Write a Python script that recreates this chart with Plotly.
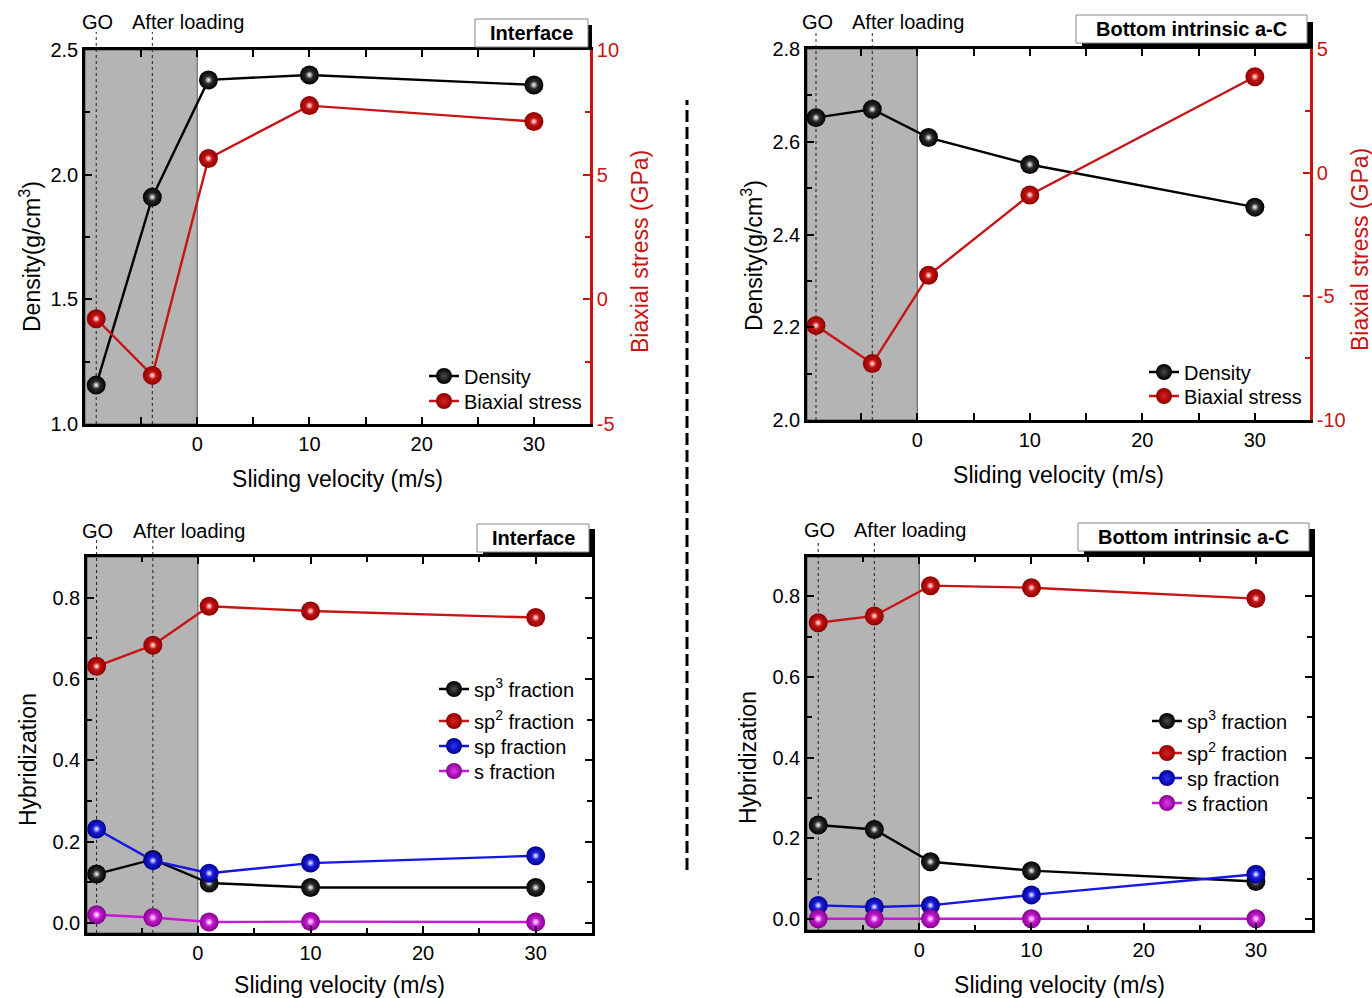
import plotly.graph_objects as go

W, H = 1372, 998

# ---- data -------------------------------------------------------------
velocity = [-9, -4, 1, 10, 30]          # GO, After loading, 1, 10, 30 m/s
state_pos = [-9, -4]
state_labels = ["GO", "After loading"]

iface_density = [1.156, 1.91, 2.38, 2.40, 2.36]
iface_stress = [-0.78, -3.05, 5.65, 7.77, 7.13]
bottom_density = [2.652, 2.670, 2.609, 2.551, 2.459]
bottom_stress = [-6.18, -7.72, -4.15, -0.90, 3.88]

iface_sp3 = [0.120, 0.156, 0.098, 0.087, 0.087]
iface_sp2 = [0.631, 0.683, 0.779, 0.767, 0.751]
iface_sp = [0.231, 0.153, 0.122, 0.147, 0.165]
iface_s = [0.020, 0.013, 0.002, 0.003, 0.002]

bottom_sp3 = [0.233, 0.222, 0.142, 0.120, 0.093]
bottom_sp2 = [0.734, 0.751, 0.826, 0.821, 0.794]
bottom_sp = [0.034, 0.030, 0.034, 0.060, 0.111]
bottom_s = [0.001, 0.001, 0.001, 0.001, 0.001]

x_ticks = [0, 10, 20, 30]
x_minor = [-5, 5, 15, 25]
iface_density_ticks = [1.0, 1.5, 2.0, 2.5]
bottom_density_ticks = [2.0, 2.2, 2.4, 2.6, 2.8]
iface_stress_ticks = [-5, 0, 5, 10]
iface_stress_text = ["-5", "0", "5", "10"]
bottom_stress_ticks = [-10, -5, 0, 5]
bottom_stress_text = ["-10", "-5", "0", "5"]
hyb_ticks = [0.0, 0.2, 0.4, 0.6, 0.8]

# ---- style ------------------------------------------------------------
FONT = "Liberation Sans, Arial, Helvetica, sans-serif"
RED = "#c81414"
BLACK = "#000000"
BLUE = "#1616e6"
MAGENTA = "#cc14dc"
SHADE = {
    BLACK: ("#000000", "#4a4a4a"),
    RED: ("#900000", "#dc2020"),
    BLUE: ("#000090", "#3030ff"),
    MAGENTA: ("#86008e", "#e436f4"),
}
TICK_SIZE = 20
TITLE_SIZE = 23


def fx(px):
    return px / W


def fy(py):
    return 1 - py / H


# panel pixel boxes: left, right, top, bottom
panels = {
    "tl": dict(l=85, r=590, t=50, b=424, xr=[-10, 35]),
    "tr": dict(l=807, r=1310, t=49, b=420, xr=[-9.8, 34.9]),
    "bl": dict(l=87, r=592, t=557, b=933, xr=[-9.85, 35]),
    "br": dict(l=807, r=1312, t=557, b=930, xr=[-10, 35]),
}

fig = go.Figure()
legend_slots = []      # (legend id, text-left px, row-centre px)


def add_series(x, y, name, color, xa, ya, text_left, row_y):
    lid = "legend" if not legend_slots else "legend%d" % (len(legend_slots) + 1)
    legend_slots.append((lid, text_left, row_y))
    edge, center = SHADE[color]
    fig.add_trace(go.Scatter(
        x=x, y=y, name=name, mode="lines+markers", xaxis=xa, yaxis=ya,
        legend=lid, line=dict(color=color, width=2.4),
        marker=dict(size=19, color=edge,
                    gradient=dict(type="radial", color=center))))
    fig.add_trace(go.Scatter(
        x=x, y=y, mode="markers", xaxis=xa, yaxis=ya, showlegend=False,
        hoverinfo="skip",
        marker=dict(size=7, color=center,
                    gradient=dict(type="radial", color="white"))))


add_series(velocity, iface_density, "Density", BLACK, "x", "y", 464, 376)
add_series(velocity, iface_stress, "Biaxial stress", RED, "x", "y2", 464, 401)
add_series(velocity, bottom_density, "Density", BLACK, "x2", "y3", 1184, 372)
add_series(velocity, bottom_stress, "Biaxial stress", RED, "x2", "y4", 1184, 396)

hyb_names = ["sp<sup>3</sup> fraction", "sp<sup>2</sup> fraction",
             "sp fraction", "s fraction"]
hyb_colors = [BLACK, RED, BLUE, MAGENTA]
iface_rows = [689, 721, 746, 771]
bottom_rows = [721, 753, 778, 803]
for vals, nm, c, ry in zip([iface_sp3, iface_sp2, iface_sp, iface_s],
                           hyb_names, hyb_colors, iface_rows):
    add_series(velocity, vals, nm, c, "x3", "y5", 474, ry)
for vals, nm, c, ry in zip([bottom_sp3, bottom_sp2, bottom_sp, bottom_s],
                           hyb_names, hyb_colors, bottom_rows):
    add_series(velocity, vals, nm, c, "x4", "y6", 1187, ry)

tickfont = dict(family=FONT, size=TICK_SIZE, color="black")


def xaxis(p, anchor):
    return dict(
        domain=[fx(p["l"]), fx(p["r"])], anchor=anchor, range=p["xr"],
        tickmode="array", tickvals=x_ticks, ticks="inside", ticklen=7,
        tickwidth=2, tickcolor="black", showline=True, linewidth=2.6,
        linecolor="black", mirror="allticks", showgrid=False, zeroline=False,
        minor=dict(tickmode="array", tickvals=x_minor, ticks="inside",
                   ticklen=5, tickwidth=2, tickcolor="black"),
        tickfont=tickfont,
        title=dict(text="Sliding velocity (m/s)",
                   font=dict(family=FONT, size=TITLE_SIZE, color="black"),
                   standoff=18),
        fixedrange=True)


def yaxis(p, anchor, rng, vals, minor_dtick, mirror, fmt=".1f"):
    return dict(
        domain=[fy(p["b"]), fy(p["t"])], anchor=anchor, range=rng,
        tickmode="array", tickvals=vals, tickformat=fmt, ticks="inside",
        ticklen=7, tickwidth=2, tickcolor="black", showline=True,
        linewidth=2.6, linecolor="black", mirror=mirror, showgrid=False,
        zeroline=False,
        minor=dict(tickmode="linear", tick0=0, dtick=minor_dtick,
                   ticks="inside", ticklen=5, tickwidth=2, tickcolor="black"),
        tickfont=tickfont, fixedrange=True)


def stress_axis(over, anchor, rng, vals, text):
    return dict(
        overlaying=over, side="right", anchor=anchor, range=rng,
        tickmode="array", tickvals=vals, ticktext=text, ticks="inside",
        ticklen=7, tickwidth=2, tickcolor=RED, showline=True, linewidth=2.6,
        linecolor=RED, showgrid=False, zeroline=False,
        minor=dict(tickmode="linear", tick0=0, dtick=2.5, ticks="inside",
                   ticklen=5, tickwidth=2, tickcolor=RED),
        tickfont=dict(family=FONT, size=TICK_SIZE, color=RED), fixedrange=True)


P = panels
layout = dict(
    width=W, height=H,
    margin=dict(l=0, r=0, t=0, b=0, pad=0, autoexpand=False),
    paper_bgcolor="white", plot_bgcolor="white",
    font=dict(family=FONT, color="black"),
    xaxis=xaxis(P["tl"], "y"),
    yaxis=yaxis(P["tl"], "x", [1.0, 2.5], iface_density_ticks, 0.25, False),
    yaxis2=stress_axis("y", "x", [-5, 10], iface_stress_ticks, iface_stress_text),
    xaxis2=xaxis(P["tr"], "y3"),
    yaxis3=yaxis(P["tr"], "x2", [2.0, 2.8], bottom_density_ticks, 0.1, False),
    yaxis4=stress_axis("y3", "x2", [-10, 5], bottom_stress_ticks, bottom_stress_text),
    xaxis3=xaxis(P["bl"], "y5"),
    yaxis5=yaxis(P["bl"], "x3", [-0.025, 0.9], hyb_ticks, 0.1, "allticks"),
    xaxis4=xaxis(P["br"], "y6"),
    yaxis6=yaxis(P["br"], "x4", [-0.027, 0.897], hyb_ticks, 0.1, "allticks"),
    showlegend=True,
)

# one single-row legend per series so each row sits at its own height
for lid, text_left, row_y in legend_slots:
    layout[lid] = dict(x=fx(text_left - 40), y=fy(row_y), xanchor="left",
                       yanchor="middle", bgcolor="rgba(0,0,0,0)",
                       font=dict(family=FONT, size=TICK_SIZE, color="black"),
                       itemclick=False, itemdoubleclick=False)

fig.update_layout(**layout)

shapes = []
annotations = []

# shaded pre-sliding region, state markers and their labels
panel_axes = [("tl", "x", 22, 32), ("tr", "x2", 22, 33),
              ("bl", "x3", 531, 540), ("br", "x4", 530, 542)]
for key, xa, label_y, line_top in panel_axes:
    p = P[key]
    shapes.append(dict(type="rect", xref=xa, yref="paper",
                       x0=p["xr"][0], x1=0, y0=fy(p["b"]), y1=fy(p["t"]),
                       fillcolor="#b4b4b4", line=dict(color="#555555", width=1),
                       layer="below"))
    for pos, lab, shift in zip(state_pos, state_labels, [1, 36]):
        shapes.append(dict(type="line", xref=xa, yref="paper", x0=pos, x1=pos,
                           y0=fy(p["b"]), y1=fy(line_top),
                           line=dict(color="#222222", width=1, dash="dot"),
                           layer="below"))
        annotations.append(dict(text=lab, xref=xa, yref="paper", x=pos,
                                y=fy(label_y), xshift=shift, showarrow=False,
                                xanchor="center", yanchor="middle",
                                font=dict(family=FONT, size=TICK_SIZE, color="black")))

# framed panel titles with drop shadow
title_boxes = [
    ("Interface", 475, 588, 19, 47, 592, 25),
    ("Bottom intrinsic a-C", 1076, 1307, 15, 43, 1313, 22),
    ("Interface", 477, 589, 524, 552, 595, 529),
    ("Bottom intrinsic a-C", 1078, 1309, 523, 551, 1315, 529),
]
for text, l, r, t, b, sr, st in title_boxes:
    shapes.append(dict(type="rect", xref="paper", yref="paper",
                       x0=fx(l + 6), x1=fx(sr), y0=fy(b + 3), y1=fy(st),
                       fillcolor="black", line=dict(width=0)))
    shapes.append(dict(type="rect", xref="paper", yref="paper",
                       x0=fx(l), x1=fx(r), y0=fy(b), y1=fy(t),
                       fillcolor="white", line=dict(color="#888888", width=1)))
    annotations.append(dict(text="<b>%s</b>" % text, xref="paper", yref="paper",
                            x=fx((l + r) / 2), y=fy((t + b) / 2),
                            showarrow=False, xanchor="center", yanchor="middle",
                            font=dict(family=FONT, size=20, color="black")))

# vertical axis titles
ytitles = [
    ("Density(g/cm<sup>3</sup>)", 30, 257, "black"),
    ("Biaxial stress (GPa)", 640, 252, RED),
    ("Density(g/cm<sup>3</sup>)", 752, 255, "black"),
    ("Biaxial stress (GPa)", 1360, 250, RED),
    ("Hybridization", 28, 760, "black"),
    ("Hybridization", 748, 758, "black"),
]
for text, x, y, col in ytitles:
    annotations.append(dict(text=text, xref="paper", yref="paper", x=fx(x),
                            y=fy(y), textangle=-90, showarrow=False,
                            xanchor="center", yanchor="middle",
                            font=dict(family=FONT, size=TITLE_SIZE, color=col)))

# dashed divider between the two columns
shapes.append(dict(type="line", xref="paper", yref="paper", x0=fx(687),
                   x1=fx(687), y0=fy(870), y1=fy(100),
                   line=dict(color="black", width=3, dash="12px,5px")))

fig.update_layout(shapes=shapes, annotations=annotations)
fig.write_html("out.html")
